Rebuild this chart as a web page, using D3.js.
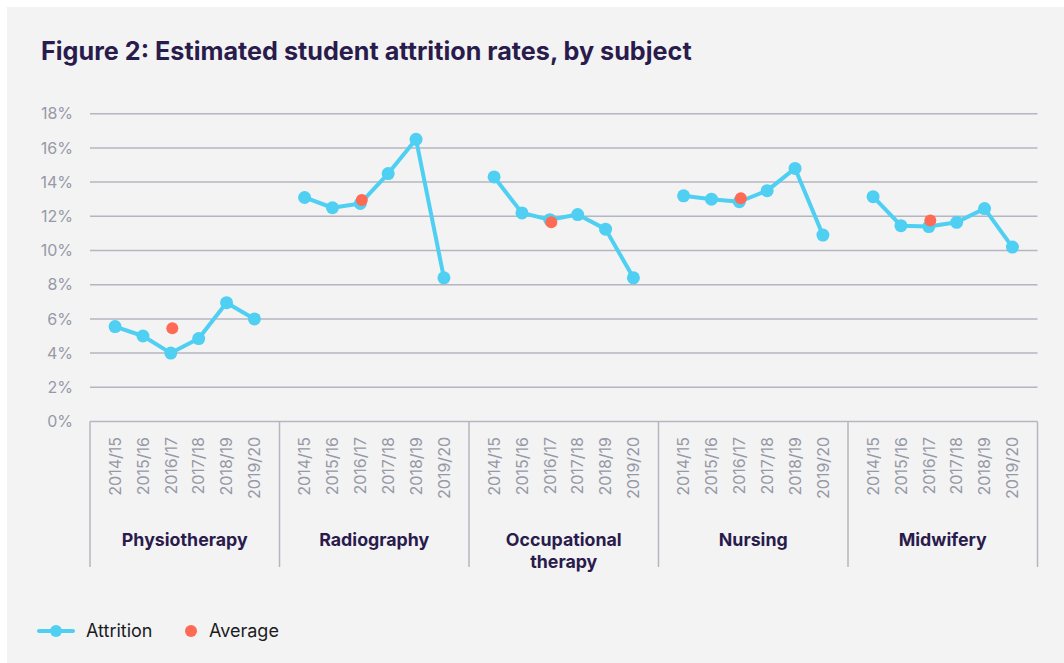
<!DOCTYPE html>
<html>
<head>
<meta charset="utf-8">
<script src="https://cdn.jsdelivr.net/npm/d3@7"></script>
<style>
  html, body { margin: 0; padding: 0; background: #ffffff; }
  svg { display: block; }
</style>
</head>
<body>
<svg id="chart" width="1064" height="663"></svg>
<script>
const categories = ["Physiotherapy", "Radiography", "Occupational therapy", "Nursing", "Midwifery"];
const years = ["2014/15", "2015/16", "2016/17", "2017/18", "2018/19", "2019/20"];
const physiotherapy = [5.55, 5.0, 4.0, 4.85, 6.95, 6.0];
const radiography = [13.1, 12.5, 12.75, 14.5, 16.5, 8.4];
const occupationalTherapy = [14.3, 12.2, 11.8, 12.1, 11.25, 8.4];
const nursing = [13.2, 13.0, 12.85, 13.5, 14.8, 10.9];
const midwifery = [13.15, 11.45, 11.4, 11.65, 12.45, 10.2];
const averages = [5.45, 12.95, 11.65, 13.05, 11.75];
const yTicks = [0, 2, 4, 6, 8, 10, 12, 14, 16, 18];

const series = [physiotherapy, radiography, occupationalTherapy, nursing, midwifery];

const svg = d3.select("#chart");
const W = 1064, H = 663;

// panel background
svg.append("rect").attr("x", 7).attr("y", 7).attr("width", W - 7).attr("height", H - 7).attr("fill", "#f3f3f3");

const plotLeft = 90, plotRight = 1037.5, plotTop = 113.7, plotBottom = 421.5;

const y = d3.scaleLinear().domain([0, 18]).range([plotBottom, plotTop]);
const xGroup = d3.scaleBand().domain(categories).range([plotLeft, plotRight]).padding(0);
const xYear = d3.scalePoint().domain(years).range([0, xGroup.bandwidth()]).padding(0.9);

const gridColor = "#b4b6c1";
const tickColor = "#9699a7";
const darkText = "#2a1b4d";
const lineColor = "#4fcff2";
const avgColor = "#ff6a55";
const font = "Inter, 'Noto Sans', sans-serif";

// title
svg.append("text")
  .attr("x", 41).attr("y", 60)
  .attr("font-family", font)
  .attr("font-weight", 700)
  .attr("font-size", 25.2)
  .attr("fill", darkText)
  .text("Figure 2: Estimated student attrition rates, by subject");

// gridlines
const grid = svg.append("g");
grid.selectAll("line").data(yTicks.filter(d => d > 0)).join("line")
  .attr("x1", plotLeft).attr("x2", plotRight)
  .attr("y1", d => y(d)).attr("y2", d => y(d))
  .attr("stroke", gridColor).attr("stroke-width", 1.5);

// y axis labels
const yAxis = d3.axisLeft(y).tickValues(yTicks).tickFormat(d => d + "%").tickSize(0).tickPadding(0);
const yg = svg.append("g").attr("transform", `translate(73,0)`).call(yAxis);
yg.select(".domain").remove();
yg.selectAll("text")
  .attr("font-family", font)
  .attr("font-size", 16)
  .attr("fill", tickColor);

// x frame: top line and dividers
const frame = svg.append("g");
frame.append("line")
  .attr("x1", plotLeft).attr("x2", plotRight)
  .attr("y1", plotBottom).attr("y2", plotBottom)
  .attr("stroke", gridColor).attr("stroke-width", 1.5);
const dividers = categories.map(c => xGroup(c)).concat([plotRight]);
frame.selectAll("line.div").data(dividers).join("line")
  .attr("class", "div")
  .attr("x1", d => d).attr("x2", d => d)
  .attr("y1", plotBottom).attr("y2", 567)
  .attr("stroke", gridColor).attr("stroke-width", 1.5);

// year labels and category labels
categories.forEach((cat, i) => {
  const g = svg.append("g").attr("transform", `translate(${xGroup(cat)},0)`);
  g.selectAll("text.yr").data(years).join("text")
    .attr("class", "yr")
    .attr("transform", d => `translate(${xYear(d)},437) rotate(-90)`)
    .attr("text-anchor", "end")
    .attr("dy", "0.36em")
    .attr("font-family", font)
    .attr("font-size", 16)
    .attr("fill", tickColor)
    .text(d => d);
  const lines = cat === "Occupational therapy" ? ["Occupational", "therapy"] : [cat];
  g.selectAll("text.cat").data(lines).join("text")
    .attr("class", "cat")
    .attr("x", xGroup.bandwidth() / 2)
    .attr("y", (d, j) => 540 + j * 22)
    .attr("dy", "0.36em")
    .attr("text-anchor", "middle")
    .attr("font-family", font)
    .attr("font-weight", 700)
    .attr("font-size", 17.8)
    .attr("fill", darkText)
    .text(d => d);
});

// lines and markers
const line = d3.line().x(d => d.x).y(d => d.y);
series.forEach((vals, i) => {
  const gx = xGroup(categories[i]);
  const pts = vals.map((v, j) => ({ x: gx + xYear(years[j]), y: y(v) }));
  svg.append("path").datum(pts)
    .attr("d", line)
    .attr("fill", "none")
    .attr("stroke", lineColor)
    .attr("stroke-width", 4)
    .attr("stroke-linejoin", "round");
  svg.append("g").selectAll("circle").data(pts).join("circle")
    .attr("cx", d => d.x).attr("cy", d => d.y).attr("r", 6.5)
    .attr("fill", lineColor);
});

// averages
svg.append("g").selectAll("circle").data(averages).join("circle")
  .attr("cx", (d, i) => xGroup(categories[i]) + xYear(years[2]) + 1.5)
  .attr("cy", d => y(d))
  .attr("r", 6)
  .attr("fill", avgColor);

// legend
const leg = svg.append("g");
leg.append("line").attr("x1", 39).attr("x2", 73).attr("y1", 631).attr("y2", 631)
  .attr("stroke", lineColor).attr("stroke-width", 4).attr("stroke-linecap", "round");
leg.append("circle").attr("cx", 56).attr("cy", 631).attr("r", 6).attr("fill", lineColor);
leg.append("text").attr("x", 86).attr("y", 631).attr("dy", "0.36em")
  .attr("font-family", font).attr("font-size", 18)
  .attr("fill", "#1b1b22").text("Attrition");
leg.append("circle").attr("cx", 191).attr("cy", 631).attr("r", 6).attr("fill", avgColor);
leg.append("text").attr("x", 209).attr("y", 631).attr("dy", "0.36em")
  .attr("font-family", font).attr("font-size", 18)
  .attr("fill", "#1b1b22").text("Average");
</script>
</body>
</html>
